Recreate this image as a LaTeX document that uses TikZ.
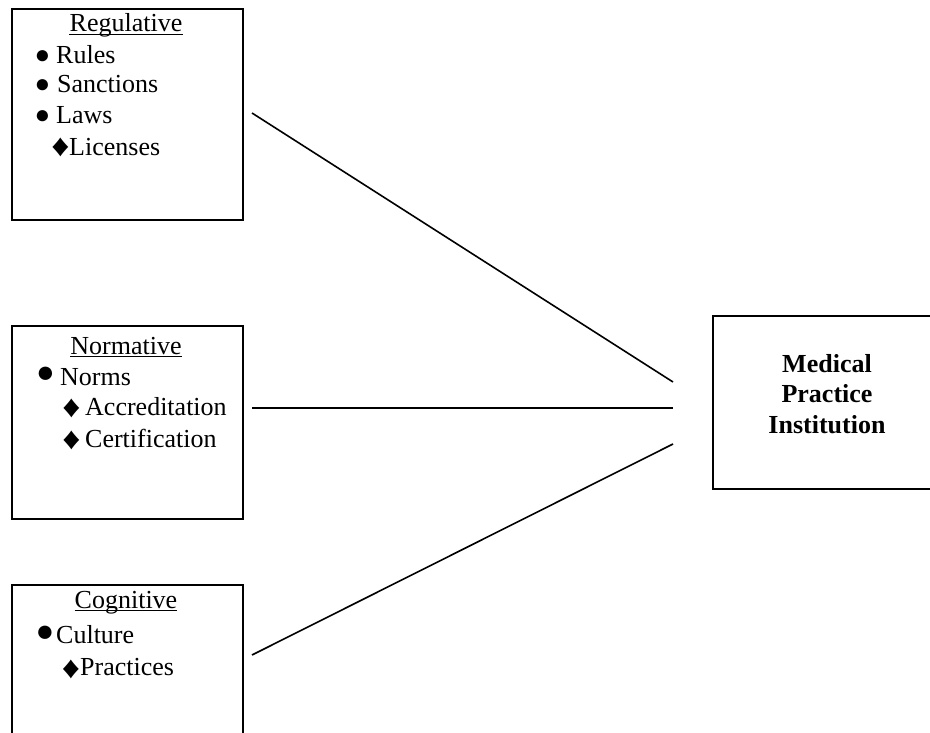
\documentclass[tikz,border=0pt]{standalone}
\usepackage{fontspec}
\usepackage{graphicx}
\setmainfont{Liberation Serif}
\newcommand{\wdiam}{\scalebox{1.15}[1]{♦}}
\begin{document}
\begin{tikzpicture}[x=1pt,y=-1pt]
\tikzset{
  box/.style={draw, line width=1.8pt, inner sep=0pt, anchor=north west},
  txt/.style={inner sep=0pt, anchor=base west, font=\fontsize{26}{30}\selectfont},
  ttl/.style={inner sep=0pt, anchor=base, font=\fontsize{26}{30}\selectfont},
  boldtxt/.style={inner sep=0pt, anchor=base, font=\fontsize{26}{30}\selectfont\bfseries},
  sbul/.style={inner sep=0pt, anchor=center, font=\fontsize{26}{26}\selectfont},
  bbul/.style={inner sep=0pt, anchor=center, font=\fontsize{31}{31}\selectfont},
  dia/.style={inner sep=0pt, anchor=center, font=\fontsize{31}{31}\selectfont},
  link/.style={line width=1.6pt},
  uline/.style={line width=1.5pt}
}
\useasboundingbox (0,0) rectangle (930,733);
\clip (0,0) rectangle (930,733);

% boxes
\node[box, minimum width=231pt, minimum height=211pt] (reg) at (11,8) {};
\node[box, minimum width=231pt, minimum height=193pt] (nor) at (11,325) {};
\node[box, minimum width=231pt, minimum height=210pt] (cog) at (11,584) {};
\node[box, minimum width=232pt, minimum height=173pt] (med) at (712,315) {};

% Regulative
\node[ttl] (regt) at (126,32) {Regulative};
\draw[uline] ([yshift=-2.5pt]regt.base west) -- ([yshift=-2.5pt]regt.base east);
\node[sbul] (rb1) at (42.5,57.5) {●};
\node[txt] (r1) at (56,64) {Rules};
\node[sbul] (rb2) at (42.5,86.5) {●};
\node[txt] (r2) at (57,93) {Sanctions};
\node[sbul] (rb3) at (42.5,117.5) {●};
\node[txt] (r3) at (56,124) {Laws};
\node[dia] (rd1) at (60.5,147.5) {\wdiam};
\node[txt] (r4) at (69,156) {Licenses};

% Normative
\node[ttl] (nort) at (126,354) {Normative};
\draw[uline] ([yshift=-2.5pt]nort.base west) -- ([yshift=-2.5pt]nort.base east);
\node[bbul] (nb1) at (45.5,375) {●};
\node[txt] (n1) at (60,385) {Norms};
\node[dia] (nd1) at (71.5,408) {\wdiam};
\node[txt] (n2) at (85,415) {Accreditation};
\node[dia] (nd2) at (71.5,440) {\wdiam};
\node[txt] (n3) at (85,447) {Certification};

% Cognitive
\node[ttl] (cogt) at (126,608) {Cognitive};
\draw[uline] ([yshift=-2.5pt]cogt.base west) -- ([yshift=-2.5pt]cogt.base east);
\node[bbul] (cb1) at (45,633.5) {●};
\node[txt] (c1) at (56,643) {Culture};
\node[dia] (cd1) at (71,669) {\wdiam};
\node[txt] (c2) at (80,675) {Practices};

% Medical Practice Institution
\node[boldtxt] (m1) at (827,372) {Medical};
\node[boldtxt] (m2) at (827,402) {Practice};
\node[boldtxt] (m3) at (827,433) {Institution};

% connectors
\coordinate (l1s) at (252,113);
\coordinate (l1e) at (673,382);
\coordinate (l2s) at (252,408);
\coordinate (l2e) at (673,408);
\coordinate (l3s) at (252,655);
\coordinate (l3e) at (673,444);
\draw[link] (l1s) -- (l1e);
\draw[link] (l2s) -- (l2e);
\draw[link] (l3s) -- (l3e);
\end{tikzpicture}
\end{document}
